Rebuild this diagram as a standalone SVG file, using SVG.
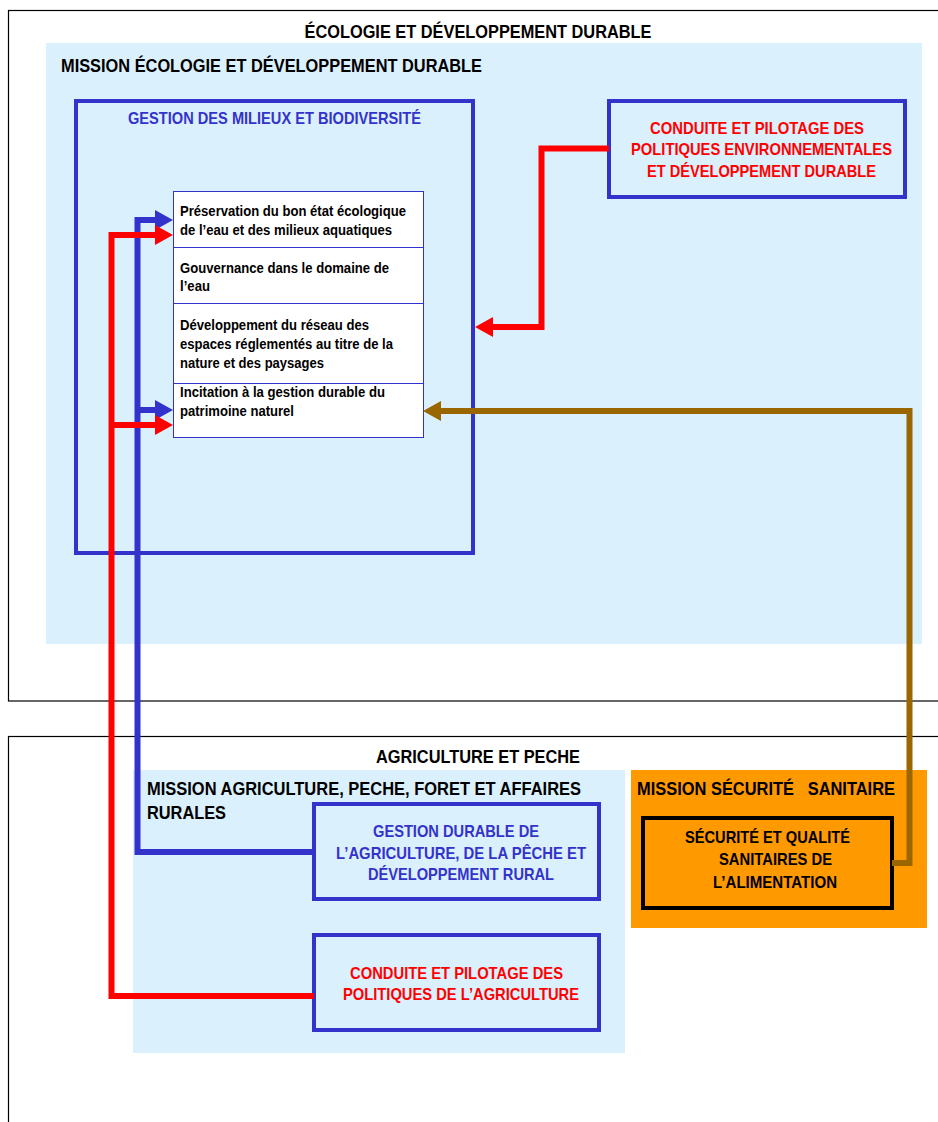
<svg xmlns="http://www.w3.org/2000/svg" width="938" height="1122" viewBox="0 0 938 1122">
<style>
text{font-family:"Liberation Sans",Arial,sans-serif;font-weight:bold;}
.h{font-size:18.5px;fill:#000;}
.blue{fill:#3333CC;font-size:17px;}
.red{fill:#FF0000;font-size:17px;}
.blk{fill:#000;font-size:17px;}
.tbl{fill:#000;font-size:14.5px;}
.c{text-anchor:middle;}
.pre{white-space:pre;}
.outer{fill:#fff;stroke:#000;stroke-width:1.2;}
.zone{fill:#DBF0FD;}
.bbox{fill:none;stroke:#3333CC;stroke-width:4;}
.cell{fill:#fff;stroke:#3333CC;stroke-width:1;}
.lb{fill:none;stroke:#3333CC;stroke-width:6;}
.lr{fill:none;stroke:#FF0000;stroke-width:6;}
.lo{fill:none;stroke:#996600;stroke-width:6;}
</style>
<rect width="938" height="1122" fill="#fff"/>
<g id="ecologie">
<rect class="outer" x="8.5" y="10.5" width="940" height="690.5"/>
<text class="h c" x="478" y="37.5" textLength="347" lengthAdjust="spacingAndGlyphs">ÉCOLOGIE ET DÉVELOPPEMENT DURABLE</text>
</g>
<g id="mission-ecologie">
<rect class="zone" x="46" y="43" width="876" height="601"/>
<text class="h" x="61" y="72" textLength="421" lengthAdjust="spacingAndGlyphs">MISSION ÉCOLOGIE ET DÉVELOPPEMENT DURABLE</text>
</g>
<g id="gestion-milieux">
<rect class="bbox" x="76" y="101" width="397" height="452"/>
<text class="blue c" x="274.5" y="124" textLength="293" lengthAdjust="spacingAndGlyphs">GESTION DES MILIEUX ET BIODIVERSITÉ</text>
</g>
<g id="conduite-env">
<rect class="bbox" x="609" y="101" width="296" height="96"/>
<text class="red c" x="757" y="134" textLength="214" lengthAdjust="spacingAndGlyphs">CONDUITE ET PILOTAGE DES</text>
<text class="red c" x="761.5" y="155" textLength="261" lengthAdjust="spacingAndGlyphs">POLITIQUES ENVIRONNEMENTALES</text>
<text class="red c" x="761.5" y="177" textLength="229" lengthAdjust="spacingAndGlyphs">ET DÉVELOPPEMENT DURABLE</text>
</g>
<g id="table">
<rect class="cell" x="173.5" y="191.5" width="250" height="56"/>
<text class="tbl" x="180" y="216" textLength="226" lengthAdjust="spacingAndGlyphs">Préservation du bon état écologique</text>
<text class="tbl" x="180" y="235" textLength="212" lengthAdjust="spacingAndGlyphs">de l’eau et des milieux aquatiques</text>
<rect class="cell" x="173.5" y="247.5" width="250" height="56"/>
<text class="tbl" x="180" y="273" textLength="209" lengthAdjust="spacingAndGlyphs">Gouvernance dans le domaine de</text>
<text class="tbl" x="180" y="291" textLength="30" lengthAdjust="spacingAndGlyphs">l’eau</text>
<rect class="cell" x="173.5" y="303.5" width="250" height="80"/>
<text class="tbl" x="180" y="330" textLength="189" lengthAdjust="spacingAndGlyphs">Développement du réseau des</text>
<text class="tbl" x="180" y="349" textLength="213" lengthAdjust="spacingAndGlyphs">espaces réglementés au titre de la</text>
<text class="tbl" x="180" y="368" textLength="144" lengthAdjust="spacingAndGlyphs">nature et des paysages</text>
<rect class="cell" x="173.5" y="383.5" width="250" height="54"/>
<text class="tbl" x="180" y="397" textLength="205" lengthAdjust="spacingAndGlyphs">Incitation à la gestion durable du</text>
<text class="tbl" x="180" y="416" textLength="114" lengthAdjust="spacingAndGlyphs">patrimoine naturel</text>
</g>
<g id="agriculture">
<rect class="outer" x="8.5" y="736.5" width="940" height="400"/>
<text class="h c" x="478" y="763" textLength="204" lengthAdjust="spacingAndGlyphs">AGRICULTURE ET PECHE</text>
</g>
<g id="mission-agriculture">
<rect class="zone" x="133" y="770" width="492" height="283"/>
<text class="h" x="147" y="795" textLength="434" lengthAdjust="spacingAndGlyphs">MISSION AGRICULTURE, PECHE, FORET ET AFFAIRES</text>
<text class="h" x="147" y="819" textLength="79" lengthAdjust="spacingAndGlyphs">RURALES</text>
</g>
<g id="gestion-durable">
<rect class="bbox" x="314" y="804" width="285" height="95"/>
<text class="blue c" x="456" y="837" textLength="166" lengthAdjust="spacingAndGlyphs">GESTION DURABLE DE</text>
<text class="blue c" x="461" y="859" textLength="250" lengthAdjust="spacingAndGlyphs">L’AGRICULTURE, DE LA PÊCHE ET</text>
<text class="blue c" x="461" y="880" textLength="186" lengthAdjust="spacingAndGlyphs">DÉVELOPPEMENT RURAL</text>
</g>
<g id="conduite-agri">
<rect class="bbox" x="314" y="935" width="285" height="95"/>
<text class="red c" x="456.5" y="979" textLength="213" lengthAdjust="spacingAndGlyphs">CONDUITE ET PILOTAGE DES</text>
<text class="red c" x="461" y="1000" textLength="236" lengthAdjust="spacingAndGlyphs">POLITIQUES DE L’AGRICULTURE</text>
</g>
<g id="mission-securite">
<rect x="631" y="770" width="296" height="158" fill="#FF9900"/>
<text class="h pre" x="637" y="795" textLength="258" lengthAdjust="spacingAndGlyphs">MISSION SÉCURITÉ   SANITAIRE</text>
</g>
<g id="securite-qualite">
<rect x="643" y="818" width="249" height="90" fill="#FF9900" stroke="#000" stroke-width="4"/>
<text class="blk c" x="767.5" y="843" textLength="165" lengthAdjust="spacingAndGlyphs">SÉCURITÉ ET QUALITÉ</text>
<text class="blk c" x="775.5" y="865" textLength="113" lengthAdjust="spacingAndGlyphs">SANITAIRES DE</text>
<text class="blk c" x="775" y="888" textLength="124" lengthAdjust="spacingAndGlyphs">L’ALIMENTATION</text>
</g>
<g id="connectors">
<path class="lr" d="M609,148.5 H541.5 V327 H492"/>
<polygon points="475,327 493,317 493,337" fill="#FF0000"/>
<path class="lo" d="M892,863 H909.5 V411 H440"/>
<polygon points="423,411 441,401 441,421" fill="#996600"/>
<path class="lb" d="M314,852 H137.5 V220 H156"/>
<path class="lb" d="M137.5,410 H156"/>
<polygon points="173,220 155,210 155,230" fill="#3333CC"/>
<polygon points="173,410 155,400 155,420" fill="#3333CC"/>
<path class="lr" d="M314,996 H111.5 V235 H156"/>
<path class="lr" d="M111.5,425 H156"/>
<polygon points="173,235 155,225 155,245" fill="#FF0000"/>
<polygon points="173,425 155,415 155,435" fill="#FF0000"/>
</g>
</svg>
